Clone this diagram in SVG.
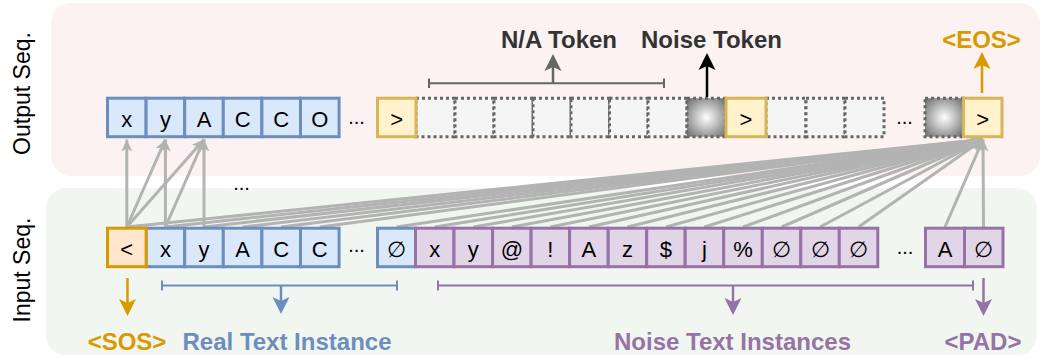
<svg xmlns="http://www.w3.org/2000/svg" width="1044" height="358" viewBox="0 0 1044 358">
<defs>
<style>
.t{font-family:"Liberation Sans",Arial,sans-serif;font-size:22px;text-anchor:middle;fill:#000}
.d{font-family:"Liberation Sans",Arial,sans-serif;font-size:20px;text-anchor:middle;fill:#000}
.lbl{font-family:"Liberation Sans",Arial,sans-serif;font-size:24px;font-weight:bold;text-anchor:middle}
.side{font-family:"Liberation Sans",Arial,sans-serif;font-size:23px;text-anchor:middle;fill:#000}
.blue{fill:#dae8fc;stroke:#6c8ebf;stroke-width:3}
.yel{fill:#fff2cc;stroke:#d6b656;stroke-width:3}
.org{fill:#ffe6cc;stroke:#d79b00;stroke-width:3}
.pur{fill:#e1d5e7;stroke:#9673a6;stroke-width:3}
.dot{fill:#f5f5f5;stroke:#666;stroke-width:3;stroke-dasharray:3 3}
.noise{fill:url(#ng);stroke:#666;stroke-width:3;stroke-dasharray:3 3}
.c{stroke:#b3b3b3;stroke-width:3;fill:none;marker-end:url(#mg)}
</style>
<radialGradient id="ng" cx="50%" cy="50%" r="62%">
<stop offset="0" stop-color="#ffffff"/>
<stop offset="1" stop-color="#7a7a7a"/>
</radialGradient>
<marker id="mg" markerUnits="userSpaceOnUse" markerWidth="13" markerHeight="12" refX="12" refY="5.5" orient="auto" overflow="visible"><path d="M0,0 L12,5.5 L0,11 L3,5.5 z" fill="#b3b3b3"/></marker>
<marker id="m6" markerUnits="userSpaceOnUse" markerWidth="18" markerHeight="18" refX="4" refY="8.5" orient="auto" overflow="visible"><path d="M0,0 L17,8.5 L0,17 L4,8.5 z" fill="#666666"/></marker>
<marker id="mk" markerUnits="userSpaceOnUse" markerWidth="18" markerHeight="18" refX="4" refY="8.5" orient="auto" overflow="visible"><path d="M0,0 L17,8.5 L0,17 L4,8.5 z" fill="#000000"/></marker>
<marker id="mo" markerUnits="userSpaceOnUse" markerWidth="18" markerHeight="18" refX="4" refY="8.5" orient="auto" overflow="visible"><path d="M0,0 L17,8.5 L0,17 L4,8.5 z" fill="#d79b00"/></marker>
<marker id="mb" markerUnits="userSpaceOnUse" markerWidth="18" markerHeight="18" refX="4" refY="8.5" orient="auto" overflow="visible"><path d="M0,0 L17,8.5 L0,17 L4,8.5 z" fill="#6c8ebf"/></marker>
<marker id="mp" markerUnits="userSpaceOnUse" markerWidth="18" markerHeight="18" refX="4" refY="8.5" orient="auto" overflow="visible"><path d="M0,0 L17,8.5 L0,17 L4,8.5 z" fill="#9673a6"/></marker>
</defs>

<g id="panels">
<rect id="output-panel" x="51" y="3" width="989" height="173" rx="20" fill="#fcf2f1"/>
<rect id="input-panel" x="46" y="188" width="991" height="167" rx="20" fill="#f1f7f0"/>
<text class="side" transform="translate(29.5,93.5) rotate(-90)">Output Seq.</text>
<text class="side" transform="translate(29.5,270) rotate(-90)">Input Seq.</text>
</g>

<g id="connectors">
<line class="c" x1="126.8" y1="227" x2="126.8" y2="139.5"/>
<line class="c" x1="126.8" y1="227" x2="165.4" y2="139.5"/>
<line class="c" x1="126.8" y1="227" x2="204" y2="139.5"/>
<line class="c" x1="165.4" y1="227" x2="165.4" y2="139.5"/>
<line class="c" x1="165.4" y1="227" x2="204" y2="139.5"/>
<line class="c" x1="204" y1="227" x2="204" y2="139.5"/>
<line class="c" x1="126.8" y1="227" x2="983" y2="139.5"/>
<line class="c" x1="165.4" y1="227" x2="983" y2="139.5"/>
<line class="c" x1="204" y1="227" x2="983" y2="139.5"/>
<line class="c" x1="242.6" y1="227" x2="983" y2="139.5"/>
<line class="c" x1="281.2" y1="227" x2="983" y2="139.5"/>
<line class="c" x1="319.8" y1="227" x2="983" y2="139.5"/>
<line class="c" x1="396.5" y1="227" x2="983" y2="139.5"/>
<line class="c" x1="434.75" y1="227" x2="983" y2="139.5"/>
<line class="c" x1="473.3" y1="227" x2="983" y2="139.5"/>
<line class="c" x1="511.85" y1="227" x2="983" y2="139.5"/>
<line class="c" x1="550.35" y1="227" x2="983" y2="139.5"/>
<line class="c" x1="588.9" y1="227" x2="983" y2="139.5"/>
<line class="c" x1="627.45" y1="227" x2="983" y2="139.5"/>
<line class="c" x1="665.95" y1="227" x2="983" y2="139.5"/>
<line class="c" x1="704.45" y1="227" x2="983" y2="139.5"/>
<line class="c" x1="743" y1="227" x2="983" y2="139.5"/>
<line class="c" x1="781.55" y1="227" x2="983" y2="139.5"/>
<line class="c" x1="820.05" y1="227" x2="983" y2="139.5"/>
<line class="c" x1="858.55" y1="227" x2="983" y2="139.5"/>
<line class="c" x1="945" y1="227" x2="983" y2="139.5"/>
<line class="c" x1="983.5" y1="227" x2="983" y2="139.5"/>
<text class="d" x="241.5" y="190">...</text>
</g>

<g id="output-seq">
<rect class="blue" x="107.5" y="98.2" width="38.6" height="38.5"/>
<rect class="blue" x="146.1" y="98.2" width="38.6" height="38.5"/>
<rect class="blue" x="184.7" y="98.2" width="38.6" height="38.5"/>
<rect class="blue" x="223.3" y="98.2" width="38.6" height="38.5"/>
<rect class="blue" x="261.9" y="98.2" width="38.6" height="38.5"/>
<rect class="blue" x="300.5" y="98.2" width="38.6" height="38.5"/>
<text class="t" x="126.8" y="126.5">x</text>
<text class="t" x="165.4" y="126.5">y</text>
<text class="t" x="204" y="126.5">A</text>
<text class="t" x="242.6" y="126.5">C</text>
<text class="t" x="281.2" y="126.5">C</text>
<text class="t" x="319.8" y="126.5">O</text>
<text class="d" x="356.5" y="124">...</text>

<rect class="dot" x="416" y="98.2" width="39" height="38.5"/>
<rect class="dot" x="455" y="98.2" width="39" height="38.5"/>
<rect class="dot" x="494" y="98.2" width="39" height="38.5"/>
<rect class="dot" x="533" y="98.2" width="38" height="38.5"/>
<rect class="dot" x="571" y="98.2" width="38.5" height="38.5"/>
<rect class="dot" x="609.5" y="98.2" width="38.5" height="38.5"/>
<rect class="dot" x="648" y="98.2" width="39" height="38.5"/>
<rect class="dot" x="766" y="98.2" width="40" height="38.5"/>
<rect class="dot" x="806" y="98.2" width="39" height="38.5"/>
<rect class="dot" x="845" y="98.2" width="39" height="38.5"/>
<rect id="noise-token-1" class="noise" x="687" y="98.2" width="39" height="38.5"/>
<rect id="noise-token-2" class="noise" x="925" y="98.2" width="38.5" height="38.5"/>
<rect class="yel" x="377.5" y="98.2" width="38.5" height="38.5"/>
<rect class="yel" x="726" y="98.2" width="40" height="38.5"/>
<rect class="yel" x="963.5" y="98.2" width="38.5" height="38.5"/>
<text class="t" x="396.75" y="126.5">&gt;</text>
<text class="t" x="746" y="126.5">&gt;</text>
<text class="t" x="982.75" y="126.5">&gt;</text>
<text class="d" x="904.5" y="124">...</text>
</g>

<g id="input-seq">
<rect class="blue" x="146.1" y="228.2" width="38.6" height="38.5"/>
<rect class="blue" x="184.7" y="228.2" width="38.6" height="38.5"/>
<rect class="blue" x="223.3" y="228.2" width="38.6" height="38.5"/>
<rect class="blue" x="261.9" y="228.2" width="38.6" height="38.5"/>
<rect class="blue" x="300.5" y="228.2" width="38.6" height="38.5"/>
<rect class="org" x="107.5" y="228.2" width="38.6" height="38.5"/>
<text class="t" x="126.8" y="256.5">&lt;</text>
<text class="t" x="165.4" y="256.5">x</text>
<text class="t" x="204" y="256.5">y</text>
<text class="t" x="242.6" y="256.5">A</text>
<text class="t" x="281.2" y="256.5">C</text>
<text class="t" x="319.8" y="256.5">C</text>
<text class="d" x="356.5" y="252">...</text>

<rect class="blue" x="377.5" y="228.2" width="38" height="38.5"/>
<rect class="pur" x="415.5" y="228.2" width="38.5" height="38.5"/>
<rect class="pur" x="454" y="228.2" width="38.6" height="38.5"/>
<rect class="pur" x="492.6" y="228.2" width="38.5" height="38.5"/>
<rect class="pur" x="531.1" y="228.2" width="38.5" height="38.5"/>
<rect class="pur" x="569.6" y="228.2" width="38.6" height="38.5"/>
<rect class="pur" x="608.2" y="228.2" width="38.5" height="38.5"/>
<rect class="pur" x="646.7" y="228.2" width="38.5" height="38.5"/>
<rect class="pur" x="685.2" y="228.2" width="38.5" height="38.5"/>
<rect class="pur" x="723.7" y="228.2" width="38.6" height="38.5"/>
<rect class="pur" x="762.3" y="228.2" width="38.5" height="38.5"/>
<rect class="pur" x="800.8" y="228.2" width="38.5" height="38.5"/>
<rect class="pur" x="839.3" y="228.2" width="38.5" height="38.5"/>
<text class="t" x="396.5" y="256.5">∅</text>
<text class="t" x="434.75" y="256.5">x</text>
<text class="t" x="473.3" y="256.5">y</text>
<text class="t" x="511.85" y="256.5">@</text>
<text class="t" x="550.35" y="256.5">!</text>
<text class="t" x="588.9" y="256.5">A</text>
<text class="t" x="627.45" y="256.5">z</text>
<text class="t" x="665.95" y="256.5">$</text>
<text class="t" x="704.45" y="256.5">j</text>
<text class="t" x="743" y="256.5">%</text>
<text class="t" x="781.55" y="256.5">∅</text>
<text class="t" x="820.05" y="256.5">∅</text>
<text class="t" x="858.55" y="256.5">∅</text>
<text class="d" x="905" y="254">...</text>
<rect class="pur" x="925.5" y="228.2" width="39" height="38.5"/>
<rect class="pur" x="964.5" y="228.2" width="38.5" height="38.5"/>
<text class="t" x="945" y="256.5">A</text>
<text class="t" x="983.75" y="256.5">∅</text>
</g>

<g id="na-token">
<path d="M429,83.3 H664 M429,78.5 V88 M664,78.5 V88" stroke="#666" stroke-width="2" fill="none"/>
<line x1="553" y1="83.3" x2="553" y2="67" stroke="#666" stroke-width="2.5" marker-end="url(#m6)"/>
<text class="lbl" x="559" y="48" fill="#333">N/A Token</text>
</g>

<g id="noise-token">
<line x1="707" y1="97" x2="707" y2="66" stroke="#000" stroke-width="2.5" marker-end="url(#mk)"/>
<text class="lbl" x="711.5" y="48" fill="#333">Noise Token</text>
</g>

<g id="eos">
<line x1="982" y1="93" x2="982" y2="65" stroke="#d79b00" stroke-width="2.5" marker-end="url(#mo)"/>
<text class="lbl" x="981.5" y="48" fill="#d79b00">&lt;EOS&gt;</text>
</g>

<g id="sos">
<line x1="127.5" y1="278" x2="127.5" y2="303" stroke="#d79b00" stroke-width="2.5" marker-end="url(#mo)"/>
<text class="lbl" x="127" y="349.5" fill="#d79b00">&lt;SOS&gt;</text>
</g>

<g id="real-text">
<path d="M162,285.5 H397 M162,280.5 V290.5 M397,280.5 V290.5" stroke="#6c8ebf" stroke-width="2" fill="none"/>
<line x1="281" y1="285.5" x2="281" y2="301" stroke="#6c8ebf" stroke-width="2.5" marker-end="url(#mb)"/>
<text class="lbl" x="287" y="349.5" fill="#6c8ebf">Real Text Instance</text>
</g>

<g id="noise-text">
<path d="M438,285.5 H973 M438,280.5 V290.5 M973,280.5 V290.5" stroke="#9673a6" stroke-width="2" fill="none"/>
<line x1="733" y1="285.5" x2="733" y2="302" stroke="#9673a6" stroke-width="2.5" marker-end="url(#mp)"/>
<text class="lbl" x="732.5" y="349.5" fill="#9673a6">Noise Text Instances</text>
</g>

<g id="pad">
<line x1="983.5" y1="278" x2="983.5" y2="303" stroke="#9673a6" stroke-width="2.5" marker-end="url(#mp)"/>
<text class="lbl" x="983" y="349.5" fill="#9673a6">&lt;PAD&gt;</text>
</g>
</svg>
